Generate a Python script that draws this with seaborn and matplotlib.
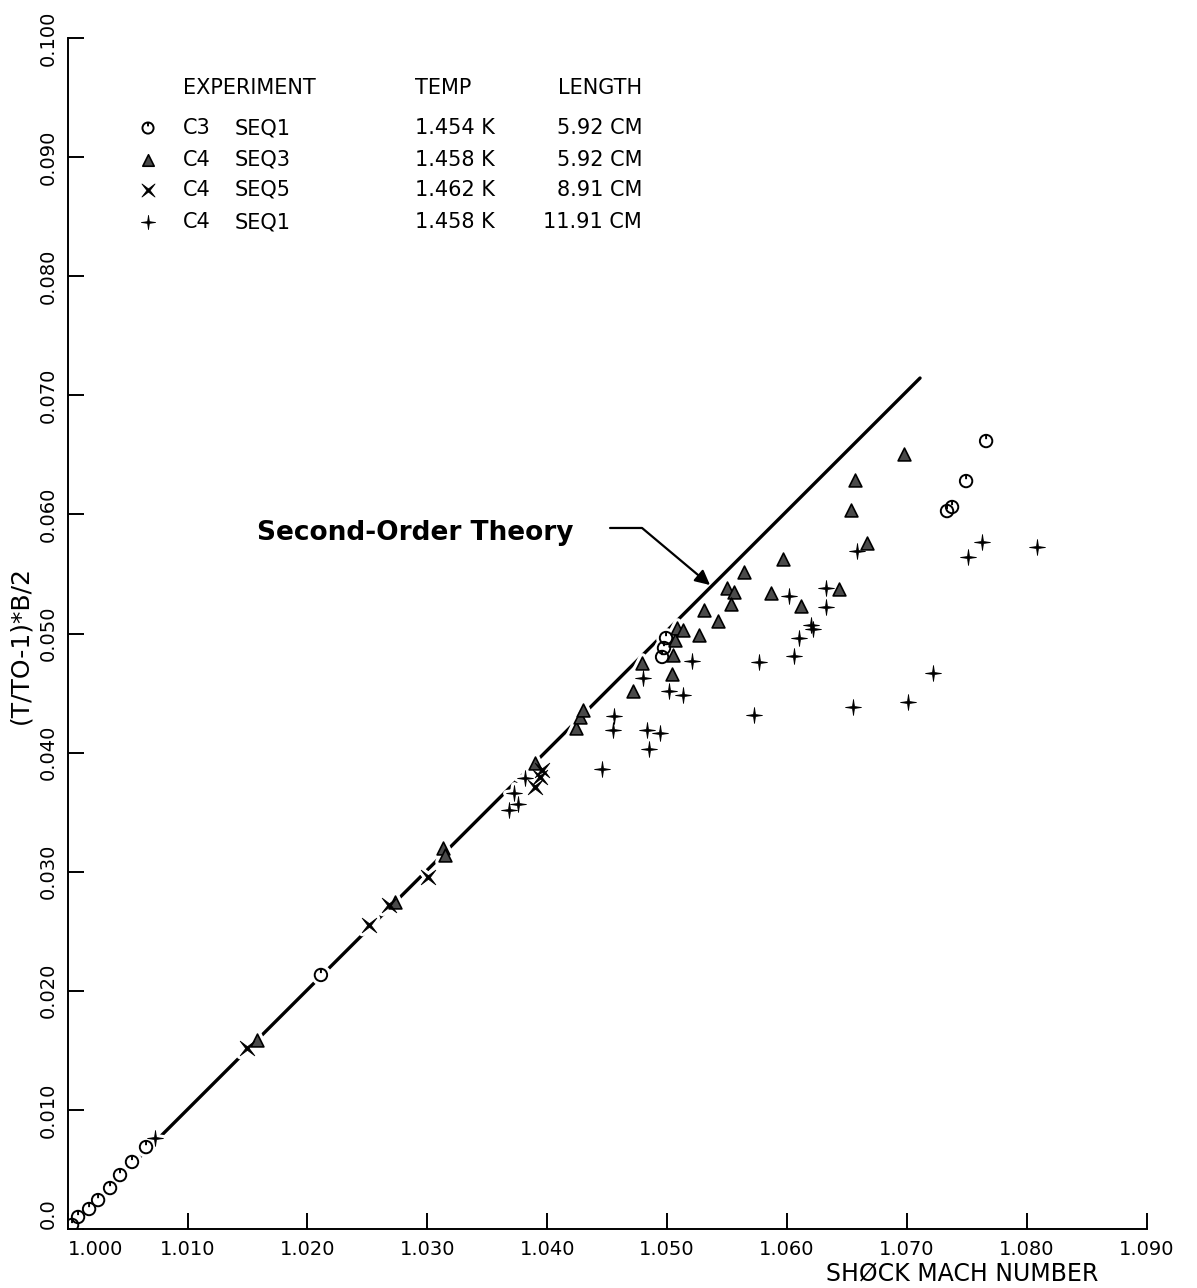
import numpy as np
import matplotlib
matplotlib.use("Agg")
import matplotlib.pyplot as plt
from matplotlib.path import Path
import seaborn as sns

# ---------------- data ----------------
# C3 SEQ1  (1.454 K, 5.92 cm)
c3_seq1_mach = [1.00036, 1.00086, 1.00178, 1.00253, 1.00353, 1.00436, 1.00536, 1.00653,
                1.02112, 1.04958, 1.04974, 1.04991, 1.07335, 1.07377, 1.07494, 1.07661]
c3_seq1_val = [0.00034, 0.00101, 0.00168, 0.00243, 0.00344, 0.00453, 0.00563, 0.00688,
               0.02133, 0.04803, 0.04878, 0.04962, 0.06028, 0.06062, 0.06280, 0.06616]

# C4 SEQ3  (1.458 K, 5.92 cm)
c4_seq3_mach = [1.01580, 1.02731, 1.03131, 1.03148, 1.03899, 1.04241, 1.04274, 1.04299,
                1.04716, 1.04791, 1.05041, 1.05049, 1.05066, 1.05083, 1.05133, 1.05266,
                1.05308, 1.05425, 1.05500, 1.05558, 1.05533, 1.05642, 1.05867, 1.05967,
                1.06117, 1.06434, 1.06668, 1.06534, 1.06567, 1.06976]
c4_seq3_val = [0.01587, 0.02745, 0.03199, 0.03140, 0.03913, 0.04206, 0.04299, 0.04358,
               0.04517, 0.04752, 0.04660, 0.04819, 0.04945, 0.05046, 0.05029, 0.04987,
               0.05197, 0.05105, 0.05382, 0.05348, 0.05248, 0.05516, 0.05340, 0.05625,
               0.05231, 0.05373, 0.05760, 0.06037, 0.06289, 0.06507]

# C4 SEQ5  (1.462 K, 8.91 cm)
c4_seq5_mach = [1.01497, 1.02515, 1.02682, 1.03007, 1.03899, 1.03941, 1.03958]
c4_seq5_val = [0.01520, 0.02552, 0.02720, 0.02955, 0.03711, 0.03795, 0.03854]

# C4 SEQ1  (1.458 K, 11.91 cm)
c4_seq1_mach = [1.00728, 1.03815, 1.03723, 1.03756, 1.03681, 1.04457, 1.04557, 1.04549,
                1.04799, 1.04833, 1.04849, 1.04941, 1.05016, 1.05133, 1.05208, 1.05725,
                1.05767, 1.06059, 1.06101, 1.06201, 1.06218, 1.06017, 1.06325, 1.06325,
                1.06584, 1.06551, 1.07010, 1.07219, 1.07511, 1.07627, 1.08086]
c4_seq1_val = [0.00764, 0.03787, 0.03661, 0.03568, 0.03518, 0.03862, 0.04307, 0.04190,
               0.04626, 0.04190, 0.04030, 0.04164, 0.04517, 0.04483, 0.04769, 0.04316,
               0.04761, 0.04811, 0.04962, 0.05071, 0.05038, 0.05315, 0.05382, 0.05222,
               0.05693, 0.04383, 0.04425, 0.04668, 0.05642, 0.05768, 0.05726]

# second-order theory curve
theory_mach = [1.000, 1.0711]
theory_val = [0.0, 0.07145]

# axis ticks
x_ticks = [1.000, 1.010, 1.020, 1.030, 1.040, 1.050, 1.060, 1.070, 1.080, 1.090]
x_tick_labels = ["1.000", "1.010", "1.020", "1.030", "1.040", "1.050",
                 "1.060", "1.070", "1.080", "1.090"]
y_ticks = [0.0, 0.010, 0.020, 0.030, 0.040, 0.050, 0.060, 0.070, 0.080, 0.090, 0.100]
y_tick_labels = ["0.0", "0.010", "0.020", "0.030", "0.040", "0.050",
                 "0.060", "0.070", "0.080", "0.090", "0.100"]

# legend table
legend_codes = ["C3", "C4", "C4", "C4"]
legend_seqs = ["SEQ1", "SEQ3", "SEQ5", "SEQ1"]
legend_temps = ["1.454 K", "1.458 K", "1.462 K", "1.458 K"]
legend_lengths = ["5.92 CM", "5.92 CM", "8.91 CM", "11.91 CM"]

# ---------------- marker shapes ----------------
circ = Path.unit_circle()
circle_tick = Path(np.concatenate([circ.vertices, [[0, 1.0], [0, 0.3]]]),
                   np.concatenate([circ.codes, [Path.MOVETO, Path.LINETO]]))


def star4(rot):
    ang = np.deg2rad(np.arange(0, 360, 45) + rot)
    r = np.where(np.arange(8) % 2 == 0, 1.0, 0.17)
    v = np.c_[r * np.cos(ang), r * np.sin(ang)]
    v = np.vstack([v, v[0]])
    codes = [Path.MOVETO] + [Path.LINETO] * 7 + [Path.CLOSEPOLY]
    return Path(v, codes)


plus_star = star4(90)
cross_star = star4(45)

# ---------------- figure ----------------
sns.set_theme(style="ticks")
plt.rcParams.update({
    "font.family": ["DejaVu Sans"],
    "text.color": "black",
    "axes.labelcolor": "black",
    "axes.edgecolor": "black",
    "xtick.color": "black",
    "ytick.color": "black",
})

fig = plt.figure(figsize=(11.97, 12.88), dpi=100)
ax = fig.add_axes([0.0566, 0.0458, 0.9013, 0.9247])

# theory line
sns.lineplot(x=theory_mach, y=theory_val, color="black", linewidth=2.4,
             zorder=1, ax=ax, legend=False)

series = [
    (c3_seq1_mach, c3_seq1_val, circle_tick, 80, "none", "black", 1.4),
    (c4_seq3_mach, c4_seq3_val, "^", 85, "#4a4a4a", "black", 1.2),
    (c4_seq5_mach, c4_seq5_val, cross_star, 110, "black", "black", 0.6),
    (c4_seq1_mach, c4_seq1_val, plus_star, 130, "black", "black", 0.6),
]

# white halos so the theory line breaks around the symbols
for mach, val, mk, size, face, edge, lw in series:
    sns.scatterplot(x=mach, y=val, marker=mk, s=size, color="white",
                    edgecolor="white", linewidth=lw + 4.5, zorder=2,
                    ax=ax, legend=False)

for mach, val, mk, size, face, edge, lw in series:
    sns.scatterplot(x=mach, y=val, marker=mk, s=size, color=edge,
                    facecolor=face, edgecolor=edge, linewidth=lw, zorder=3,
                    ax=ax, legend=False)

# axes
ax.set_xlim(1.000, 1.090)
ax.set_ylim(0.0, 0.100)
ax.set_xticks(x_ticks)
ax.set_xticklabels(x_tick_labels)
ax.set_yticks(y_ticks)
ax.set_yticklabels(y_tick_labels)
sns.despine(ax=ax)
for side in ("left", "bottom"):
    ax.spines[side].set_linewidth(1.4)
ax.tick_params(direction="in", length=11.5, width=1.4, labelsize=14, pad=8)
ax.tick_params(axis="y", labelrotation=90, pad=7)
for lab in ax.get_yticklabels():
    lab.set_va("center")
ax.get_yticklabels()[0].set_va("bottom")
ax.get_xticklabels()[0].set_ha("left")

ax.set_xlabel("SHØCK MACH NUMBER", fontsize=17)
ax.xaxis.set_label_coords(0.829, -0.027)
ax.set_ylabel("(T/TO-1)*B/2", fontsize=18)
ax.yaxis.set_label_coords(-0.033, 0.49)

# legend table
hdr_y = 0.958
row_y = [0.9244, 0.8976, 0.8724, 0.8455]
ax.text(0.1069, hdr_y, "EXPERIMENT", transform=ax.transAxes, fontsize=15,
        ha="left", va="center")
ax.text(0.3219, hdr_y, "TEMP", transform=ax.transAxes, fontsize=15,
        ha="left", va="center")
ax.text(0.5324, hdr_y, "LENGTH", transform=ax.transAxes, fontsize=15,
        ha="right", va="center")
for i, (mach, val, mk, size, face, edge, lw) in enumerate(series):
    ax.scatter([0.0744], [row_y[i]], marker=mk, s=size * 0.8, facecolors=face,
               edgecolors=edge, linewidths=lw, transform=ax.transAxes,
               clip_on=False, zorder=3)
    ax.text(0.1069, row_y[i], legend_codes[i], transform=ax.transAxes,
            fontsize=15, ha="left", va="center")
    ax.text(0.1551, row_y[i], legend_seqs[i], transform=ax.transAxes,
            fontsize=15, ha="left", va="center")
    ax.text(0.3219, row_y[i], legend_temps[i], transform=ax.transAxes,
            fontsize=15, ha="left", va="center")
    ax.text(0.5324, row_y[i], legend_lengths[i], transform=ax.transAxes,
            fontsize=15, ha="right", va="center")

# theory annotation
ax.text(1.01579, 0.05844, "Second-Order Theory", fontsize=19,
        fontweight="bold", ha="left", va="center")
ax.annotate("", xy=(1.05358, 0.05407), xytext=(1.04524, 0.05886),
            arrowprops=dict(arrowstyle="-|>", color="black", lw=1.6,
                            connectionstyle="angle,angleA=0,angleB=140,rad=0",
                            shrinkA=0, shrinkB=0, mutation_scale=22))

fig.savefig("out.png", dpi=100, facecolor="white")
